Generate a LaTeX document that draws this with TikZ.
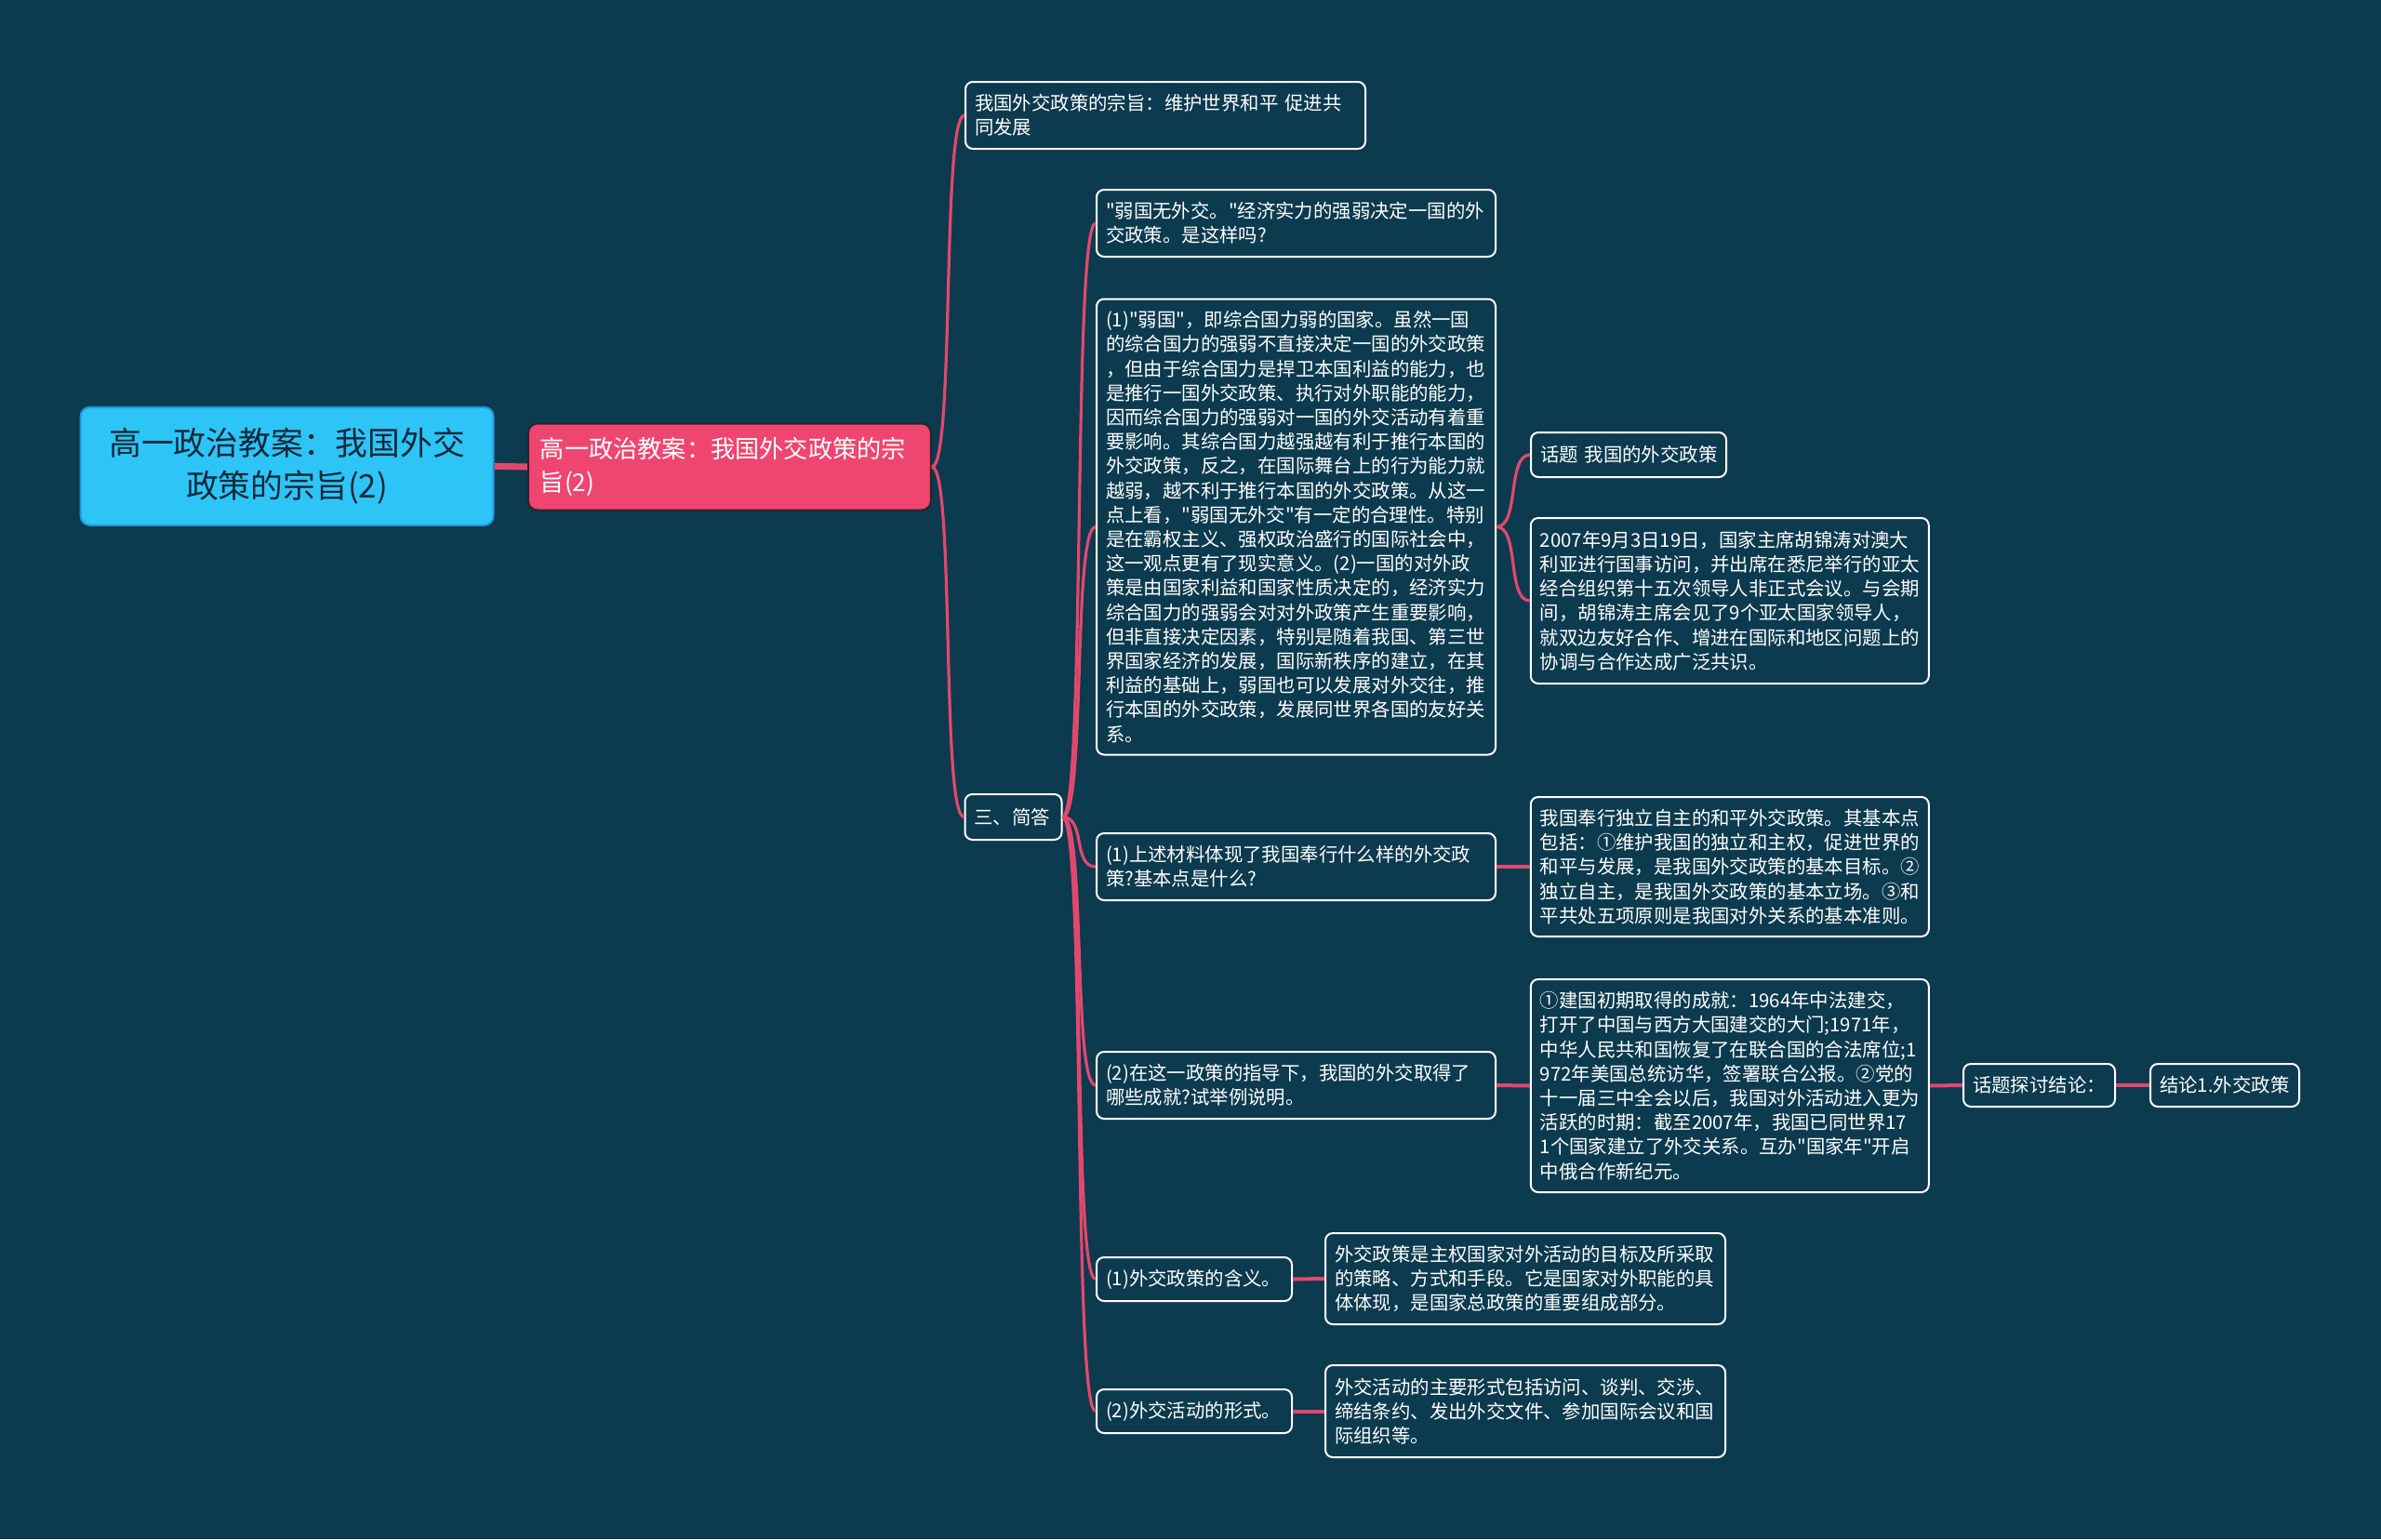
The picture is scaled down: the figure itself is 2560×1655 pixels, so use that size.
\documentclass[tikz,border=0pt]{standalone}
\usepackage{fontspec}
\newfontfamily\cjk{Noto Sans CJK SC}
\definecolor{bg}{RGB}{12,58,78}
\definecolor{lk}{RGB}{226,72,110}
\definecolor{pinkf}{RGB}{238,70,112}
\definecolor{pinkb}{RGB}{45,35,40}
\definecolor{rootf}{RGB}{44,197,246}
\definecolor{rootb}{RGB}{30,150,222}
\definecolor{roottxt}{RGB}{20,40,58}
\begin{document}
\begin{tikzpicture}[x=0.5pt,y=-0.5pt,
  box/.style={draw=white, line width=1pt, rounded corners=4pt, fill=bg, text=white,
    font=\cjk\fontsize{10.2}{13.1}\selectfont, align=left, inner xsep=5pt, inner ysep=0pt, anchor=center},
  link/.style={draw=lk, line width=1.6pt},
  bar/.style={draw=lk, line width=2pt},
]
\fill[bg] (0,0) rectangle (2560,1655);

\node[draw=rootb, line width=1pt, fill=rootf, rounded corners=5pt, text=roottxt,
  font=\cjk\fontsize{17.4}{22.9}\selectfont, align=center, minimum width=222pt,
  minimum height=63.5pt, inner sep=0pt] (root) at (308.6,501.3)
  {高一政治教案：我国外交\\政策的宗旨(2)};

\node[draw=pinkb, line width=1pt, fill=pinkf, rounded corners=5pt, text=white,
  font=\cjk\fontsize{13.1}{18}\selectfont, align=left, text width=203.5pt,
  inner xsep=6.5pt, inner ysep=0pt, minimum height=46.5pt] (l1) at (784.4,502)
  {高一政治教案：我国外交政策的宗\\旨(2)};

\node[box, text width=205pt, minimum height=36pt] (A) at (1253,124)
  {我国外交政策的宗旨：维护世界和平~促进共\\同发展};
\node[box, text width=42pt, minimum height=24.5pt] (B) at (1089.5,878.5) {三、简答};

\node[box, text width=204.5pt, minimum height=36pt] (C1) at (1393.5,240)
  {"弱国无外交。"经济实力的强弱决定一国的外\\交政策。是这样吗?};
\node[box, text width=204.5pt, minimum height=245pt] (C2) at (1393.5,566.5)
  {(1)"弱国"，即综合国力弱的国家。虽然一国\\
的综合国力的强弱不直接决定一国的外交政策\\
，但由于综合国力是捍卫本国利益的能力，也\\
是推行一国外交政策、执行对外职能的能力，\\
因而综合国力的强弱对一国的外交活动有着重\\
要影响。其综合国力越强越有利于推行本国的\\
外交政策，反之，在国际舞台上的行为能力就\\
越弱，越不利于推行本国的外交政策。从这一\\
点上看，"弱国无外交"有一定的合理性。特别\\
是在霸权主义、强权政治盛行的国际社会中，\\
这一观点更有了现实意义。(2)一国的对外政\\
策是由国家利益和国家性质决定的，经济实力\\
综合国力的强弱会对对外政策产生重要影响，\\
但非直接决定因素，特别是随着我国、第三世\\
界国家经济的发展，国际新秩序的建立，在其\\
利益的基础上，弱国也可以发展对外交往，推\\
行本国的外交政策，发展同世界各国的友好关\\
系。};
\node[box, text width=204.5pt, minimum height=36pt] (C3) at (1393.5,932)
  {(1)上述材料体现了我国奉行什么样的外交政\\策?基本点是什么?};
\node[box, text width=204.5pt, minimum height=36pt] (C4) at (1393.5,1167)
  {(2)在这一政策的指导下，我国的外交取得了\\哪些成就?试举例说明。};
\node[box, text width=95pt, minimum height=23.5pt] (C5) at (1284,1375.5) {(1)外交政策的含义。};
\node[box, text width=95pt, minimum height=23.5pt] (C6) at (1284,1517.5) {(2)外交活动的形式。};

\node[box, text width=95pt, minimum height=24pt] (D1) at (1751,489) {话题~我国的外交政策};
\node[box, text width=204pt, minimum height=89pt] (D2) at (1859.8,646)
  {2007年9月3日19日，国家主席胡锦涛对澳大\\
利亚进行国事访问，并出席在悉尼举行的亚太\\
经合组织第十五次领导人非正式会议。与会期\\
间，胡锦涛主席会见了9个亚太国家领导人，\\
就双边友好合作、增进在国际和地区问题上的\\
协调与合作达成广泛共识。};
\node[box, text width=204pt, minimum height=75pt] (E) at (1859.8,932)
  {我国奉行独立自主的和平外交政策。其基本点\\
包括：①维护我国的独立和主权，促进世界的\\
和平与发展，是我国外交政策的基本目标。②\\
独立自主，是我国外交政策的基本立场。③和\\
平共处五项原则是我国对外关系的基本准则。};
\node[box, text width=204pt, minimum height=114.5pt] (F) at (1859.8,1167.5)
  {①建国初期取得的成就：1964年中法建交，\\
打开了中国与西方大国建交的大门;1971年，\\
中华人民共和国恢复了在联合国的合法席位;1\\
972年美国总统访华，签署联合公报。②党的\\
十一届三中全会以后，我国对外活动进入更为\\
活跃的时期：截至2007年，我国已同世界17\\
1个国家建立了外交关系。互办"国家年"开启\\
中俄合作新纪元。};
\node[box, text width=71.5pt, minimum height=23pt] (G) at (2192.5,1167) {话题探讨结论：};
\node[box, text width=70pt, minimum height=23pt] (H) at (2392,1167) {结论1.外交政策};
\node[box, text width=205pt, minimum height=49pt] (I) at (1640,1375)
  {外交政策是主权国家对外活动的目标及所采取\\
的策略、方式和手段。它是国家对外职能的具\\
体体现，是国家总政策的重要组成部分。};
\node[box, text width=205pt, minimum height=49.5pt] (J) at (1640,1517.5)
  {外交活动的主要形式包括访问、谈判、交涉、\\
缔结条约、发出外交文件、参加国际会议和国\\
际组织等。};

\draw[draw=lk, line width=3.5pt] (root.east) -- (l1.west);
\draw[link] (l1.east) .. controls +(25,0) and +(-25,0) .. (A.west);
\draw[link] (l1.east) .. controls +(25,0) and +(-25,0) .. (B.west);
\foreach \c in {C1,C2,C3,C4,C5,C6}
  \draw[link] (B.east) .. controls +(25,0) and +(-25,0) .. (\c.west);
\draw[link] (C2.east) .. controls +(25,0) and +(-25,0) .. (D1.west);
\draw[link] (C2.east) .. controls +(25,0) and +(-25,0) .. (D2.west);
\draw[bar] (C3.east) -- (E.west);
\draw[bar] (C4.east) -- (F.west);
\draw[bar] (F.east) -- (G.west);
\draw[bar] (G.east) -- (H.west);
\draw[bar] (C5.east) -- (I.west);
\draw[bar] (C6.east) -- (J.west);
\end{tikzpicture}
\end{document}
